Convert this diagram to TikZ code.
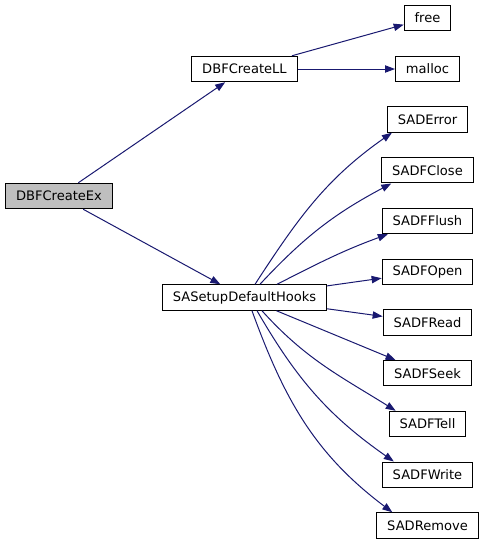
\documentclass[tikz,border=0pt]{standalone}
\usepackage{fontspec}
\setmainfont{DejaVu Sans}
\usetikzlibrary{arrows.meta}
\definecolor{edgeblue}{RGB}{25,25,112}
\tikzset{
	fn/.style={draw=black, line width=0.75pt, fill=white, minimum height=19.1pt, inner xsep=7.8pt, inner ysep=0pt, font=\fontsize{9.8pt}{11pt}\selectfont},
	cur/.style={fn, fill=black!25},
	call/.style={edgeblue, line width=0.75pt, -{Triangle[length=7.5pt,width=5.5pt]}}
}

\begin{document}
\begin{tikzpicture}[x=0.75pt,y=-0.75pt]

	\useasboundingbox (0,0) rectangle (485,544);

	\node[cur] (ex) at (59,196) {DBFCreateEx};
	\node[fn] (ll) at (244.5,69) {DBFCreateLL};
	\node[fn] (hooks) at (244.5,297.5) {SASetupDefaultHooks};
	\node[fn] (free) at (427.5,18) {free};
	\node[fn] (malloc) at (427.5,69) {malloc};

	\foreach \name [count=\i] in {SADError, SADFClose, SADFFlush, SADFOpen, SADFRead, SADFSeek, SADFTell, SADFWrite, SADRemove}
		\node[fn] (\name) at (427.5,119.5+50.75*\i-50.75) {\name};
		% end for \name

	\draw[call] (ex) -- (ll);
	\draw[call] (ex) -- (hooks);
	\draw[call] (ll) -- (free);
	\draw[call] (ll) -- (malloc);

	% hooks fanning out up
	\draw[call] ([xshift=7.9pt]hooks.north) to[out=57,in=215] ([xshift=3.75pt]SADError.south west);
	\draw[call] ([xshift=11.6pt]hooks.north) to[out=47,in=208] ([xshift=7.5pt]SADFClose.south west);
	\draw[call] ([xshift=24.4pt]hooks.north) to[out=27,in=200] ([xshift=4.5pt]SADFFlush.south west);
	\draw[call] (hooks) -- (SADFOpen);
	% hooks fanning out down
	\draw[call] (hooks) -- (SADFRead);
	\draw[call] (hooks) -- (SADFSeek);
	\draw[call] ([xshift=13.1pt]hooks.south) to[out=-48,in=148] ([xshift=5.3pt]SADFTell.north west);
	\draw[call] ([xshift=9.4pt]hooks.south) to[out=-60,in=145] ([xshift=9pt]SADFWrite.north west);
	\draw[call] ([xshift=5.6pt]hooks.south) to[out=-70,in=143] ([xshift=12pt]SADRemove.north west);

\end{tikzpicture}
\end{document}
